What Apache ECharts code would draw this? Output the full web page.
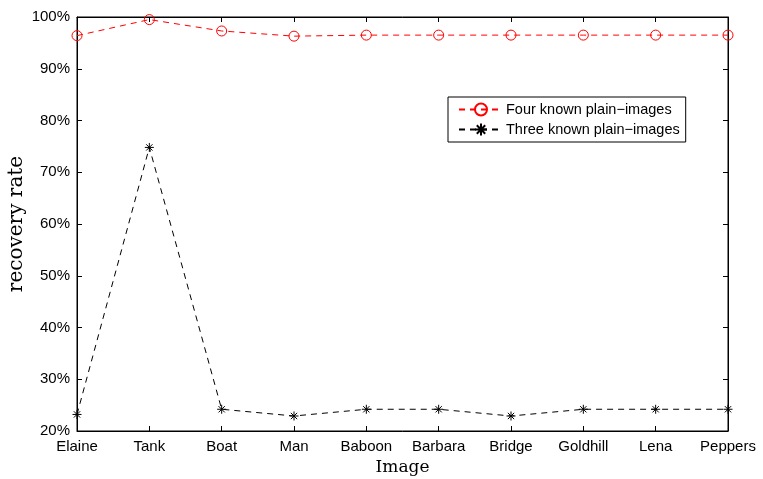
<!DOCTYPE html>
<html>
<head>
<meta charset="utf-8">
<script src="https://cdn.jsdelivr.net/npm/echarts@6/dist/echarts.min.js"></script>
<style>
  html, body { margin: 0; padding: 0; background: #fff; }
  #chart { width: 763px; height: 479px; }
</style>
</head>
<body>
<div id="chart"></div>
<script>
// image names along the x axis
var images = ["Elaine", "Tank", "Boat", "Man", "Baboon", "Barbara", "Bridge", "Goldhill", "Lena", "Peppers"];
// recovery rate (%)
var fourKnown = [96.4, 99.5, 97.3, 96.3, 96.5, 96.5, 96.5, 96.5, 96.5, 96.5];
var threeKnown = [23.2, 74.8, 24.2, 22.9, 24.2, 24.2, 22.9, 24.2, 24.2, 24.2];
var seriesNames = ["Four known plain\u2212images", "Three known plain\u2212images"];

var starPath = "path://M5,0L5,10M0,5L10,5M1.5,1.5L8.5,8.5M1.5,8.5L8.5,1.5";
var labelFont = { fontFamily: "Liberation Sans, Arial, sans-serif", fontSize: 15, color: "#000" };

var chart = echarts.init(document.getElementById("chart"));
var option = {
  animation: false,
  backgroundColor: "#fff",
  grid: {
    left: 77, right: 35, top: 17, bottom: 48,
    outerBoundsMode: "none",
    show: true, borderColor: "#000", borderWidth: 1
  },
  legend: {
    orient: "vertical",
    left: 448, top: 97,
    backgroundColor: "#fff",
    borderColor: "#000", borderWidth: 1,
    padding: [5, 6, 5, 10],
    itemGap: 5,
    itemWidth: 44, itemHeight: 15,
    textStyle: { fontFamily: "Liberation Sans, Arial, sans-serif", fontSize: 14.5, color: "#000", padding: [0, 0, 0, -2] },
    data: seriesNames
  },
  xAxis: [
    {
      type: "category", data: images, boundaryGap: false,
      axisLine: { lineStyle: { color: "#000" } },
      axisTick: { inside: true, length: 5, lineStyle: { color: "#000" } },
      axisLabel: Object.assign({ margin: 8, interval: 0 }, labelFont),
      name: "Image", nameLocation: "middle", nameGap: 28, nameMoveOverlap: false,
      nameTextStyle: { fontFamily: "DejaVu Serif, Liberation Serif, serif", fontSize: 17, color: "#000" }
    },
    {
      type: "category", data: images, boundaryGap: false, position: "top",
      axisLine: { lineStyle: { color: "#000" } },
      axisTick: { inside: true, length: 5, lineStyle: { color: "#000" } },
      axisLabel: { show: false }
    }
  ],
  yAxis: [
    {
      type: "value", min: 20, max: 100, interval: 10,
      axisLine: { show: true, lineStyle: { color: "#000" } },
      axisTick: { show: true, inside: true, length: 5, lineStyle: { color: "#000" } },
      splitLine: { show: false },
      axisLabel: Object.assign({ formatter: "{value}%", margin: 7 }, labelFont),
      name: "recovery rate", nameLocation: "middle", nameGap: 50, nameMoveOverlap: false,
      nameTextStyle: { fontFamily: "DejaVu Serif, Liberation Serif, serif", fontSize: 20, color: "#000" }
    },
    {
      type: "value", min: 20, max: 100, interval: 10, position: "right",
      axisLine: { show: true, lineStyle: { color: "#000" } },
      axisTick: { show: true, inside: true, length: 5, lineStyle: { color: "#000" } },
      splitLine: { show: false },
      axisLabel: { show: false }
    }
  ],
  series: [
    {
      name: seriesNames[0], type: "line", data: fourKnown,
      symbol: "circle", symbolSize: 10,
      lineStyle: { color: "#ff0000", width: 1, type: [6, 5] },
      itemStyle: { color: "rgba(0,0,0,0)", borderColor: "#ff0000", borderWidth: 1 }
    },
    {
      name: seriesNames[1], type: "line", data: threeKnown,
      symbol: starPath, symbolSize: 9,
      lineStyle: { color: "#000", width: 1, type: [6, 5] },
      itemStyle: { color: "#000", borderColor: "#000", borderWidth: 1 }
    }
  ]
};
chart.setOption(option);
</script>
</body>
</html>
